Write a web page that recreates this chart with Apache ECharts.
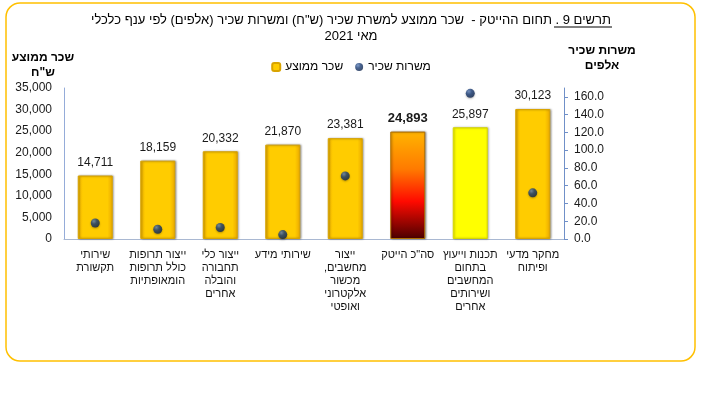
<!DOCTYPE html>
<html>
<head>
<meta charset="utf-8">
<script src="https://cdn.jsdelivr.net/npm/echarts@6/dist/echarts.min.js"></script>
<style>
html, body { margin: 0; padding: 0; background: #fff; }
#chart { width: 702px; height: 397px; }
</style>
</head>
<body>
<div id="chart" dir="rtl"></div>
<script>
// ענפים, משמאל לימין כמו בתרשים
var categories = [
    'שירותי\nתקשורת',
    'ייצור תרופות\nכולל תרופות\nהומאופתיות',
    'ייצור כלי\nתחבורה\nוהובלה\nאחרים',
    'שירותי מידע',
    'ייצור\nמחשבים,\nמכשור\nאלקטרוני\nואופטי',
    'סה"כ הייטק',
    'תכנות וייעוץ\nבתחום\nהמחשבים\nושירותים\nאחרים',
    'מחקר מדעי\nופיתוח'
];
// שכר ממוצע (ש"ח)
var avgWage = [14711, 18159, 20332, 21870, 23381, 24893, 25897, 30123];
// משרות שכיר (אלפים) - לסה"כ אין נקודה בתרשים
var jobs = [18, 11, 13, 5, 71, null, 164, 52];
var leftTicks = [0, 5000, 10000, 15000, 20000, 25000, 30000, 35000];
var rightTicks = [0, 20, 40, 60, 80, 100, 120, 140, 160];

var FONT = 'Arial, "Liberation Sans", sans-serif';
var TOTAL_IDX = 5;
var SOFTWARE_IDX = 6;

var goldStyle = {
    color: new echarts.graphic.LinearGradient(0, 0, 1, 0, [
        {offset: 0, color: '#f2b400'},
        {offset: 0.15, color: '#ffcc00'},
        {offset: 0.85, color: '#ffcc00'},
        {offset: 1, color: '#eaa800'}
    ]),
    borderColor: '#d9a400',
    borderWidth: 1,
    shadowColor: 'rgba(0,0,0,0.35)',
    shadowBlur: 2,
    shadowOffsetX: 1,
    shadowOffsetY: 0
};
var totalStyle = {
    color: new echarts.graphic.LinearGradient(0, 0, 0, 1, [
        {offset: 0, color: '#ffb400'},
        {offset: 0.35, color: '#ff7a00'},
        {offset: 0.65, color: '#ff0a00'},
        {offset: 1, color: '#4a0000'}
    ]),
    borderColor: '#b07000',
    borderWidth: 1,
    shadowColor: 'rgba(0,0,0,0.35)',
    shadowBlur: 2,
    shadowOffsetX: 1
};
var softwareStyle = {
    color: '#ffff00',
    borderColor: '#d6d600',
    borderWidth: 1,
    shadowColor: 'rgba(0,0,0,0.3)',
    shadowBlur: 2,
    shadowOffsetX: 1
};

var barData = [];
for (var i = 0; i < avgWage.length; i++) {
    var item = {value: avgWage[i]};
    if (i == TOTAL_IDX) {
        item.itemStyle = totalStyle;
        item.label = {fontWeight: 'bold', fontSize: 13};
    } else if (i == SOFTWARE_IDX) {
        item.itemStyle = softwareStyle;
    }
    barData.push(item);
}

var dotColor = new echarts.graphic.RadialGradient(0.35, 0.3, 0.8, [
    {offset: 0, color: '#5f82bb'},
    {offset: 0.4, color: '#1d3f78'},
    {offset: 1, color: '#0b1f44'}
]);

var chart = echarts.init(document.getElementById('chart'));
var option = {
    backgroundColor: '#fff',
    textStyle: {fontFamily: FONT},
    title: {
        text: 'תרשים 9 . תחום ההייטק -  שכר ממוצע למשרת שכיר (ש"ח) ומשרות שכיר (אלפים) לפי ענף כלכלי\nמאי 2021',
        left: 'center',
        top: 12,
        padding: 0,
        textStyle: {fontFamily: FONT, fontSize: 13, fontWeight: 'normal', color: '#000', lineHeight: 16}
    },
    legend: {
        data: ['שכר ממוצע', 'משרות שכיר'],
        top: 56,
        left: 'center',
        itemWidth: 8,
        itemHeight: 8,
        itemGap: 12,
        textStyle: {fontFamily: FONT, fontSize: 12, color: '#000'}
    },
    grid: {left: 64, right: 138, top: 88, bottom: 158},
    xAxis: {
        type: 'category',
        data: categories,
        axisLine: {lineStyle: {color: '#a9b8d2'}},
        axisTick: {show: false},
        axisLabel: {interval: 0, margin: 9, fontFamily: FONT, fontSize: 11, lineHeight: 13, color: '#111'}
    },
    yAxis: [{
        type: 'value',
        min: 0, max: 35000, interval: 5000,
        name: 'שכר ממוצע\nש"ח',
        nameLocation: 'end',
        nameGap: 8,
        nameTextStyle: {fontFamily: FONT, fontSize: 12, fontWeight: 'bold', color: '#000', lineHeight: 15, align: 'center', padding: [0, 42, 0, 0]},
        axisLine: {show: true, lineStyle: {color: '#95acd9'}},
        axisTick: {show: false},
        splitLine: {show: false},
        axisLabel: {
            customValues: leftTicks,
            margin: 12, fontFamily: FONT, fontSize: 12, color: '#1a1a1a',
            formatter: function (v) { return v.toLocaleString('en-US'); }
        }
    }, {
        type: 'value',
        position: 'right',
        min: 0, max: 170, interval: 20,
        name: 'משרות שכיר\nאלפים',
        nameLocation: 'end',
        nameGap: 15,
        nameTextStyle: {fontFamily: FONT, fontSize: 12, fontWeight: 'bold', color: '#000', lineHeight: 15, align: 'center', padding: [0, 0, 0, 76]},
        axisLine: {show: true, lineStyle: {color: '#7090c8'}},
        axisTick: {show: true, inside: false, length: 4, customValues: rightTicks, lineStyle: {color: '#7090c8'}},
        splitLine: {show: false},
        axisLabel: {
            customValues: rightTicks,
            margin: 10, fontFamily: FONT, fontSize: 12, color: '#1a1a1a',
            formatter: function (v) { return v.toFixed(1); }
        }
    }],
    series: [{
        name: 'שכר ממוצע',
        type: 'bar',
        yAxisIndex: 0,
        barWidth: 35,
        itemStyle: goldStyle,
        label: {
            show: true,
            position: 'top',
            distance: 7,
            fontFamily: FONT,
            fontSize: 12,
            color: '#1a1a1a',
            formatter: function (p) { return p.value.toLocaleString('en-US'); }
        },
        data: barData
    }, {
        name: 'משרות שכיר',
        type: 'scatter',
        yAxisIndex: 1,
        symbol: 'circle',
        symbolSize: 9,
        itemStyle: {color: dotColor, shadowColor: 'rgba(0,0,0,0.35)', shadowBlur: 2, shadowOffsetY: 1},
        data: jobs,
        z: 5
    }],
    graphic: [{
        type: 'rect',
        shape: {x: 6, y: 3, width: 689, height: 358, r: 14},
        style: {fill: 'none', stroke: '#ffc000', lineWidth: 1.5},
        silent: true
    }, {
        type: 'line',
        shape: {x1: 554, y1: 27, x2: 612, y2: 27},
        style: {stroke: '#000', lineWidth: 1},
        silent: true
    }]
};
chart.setOption(option);
</script>
</body>
</html>
